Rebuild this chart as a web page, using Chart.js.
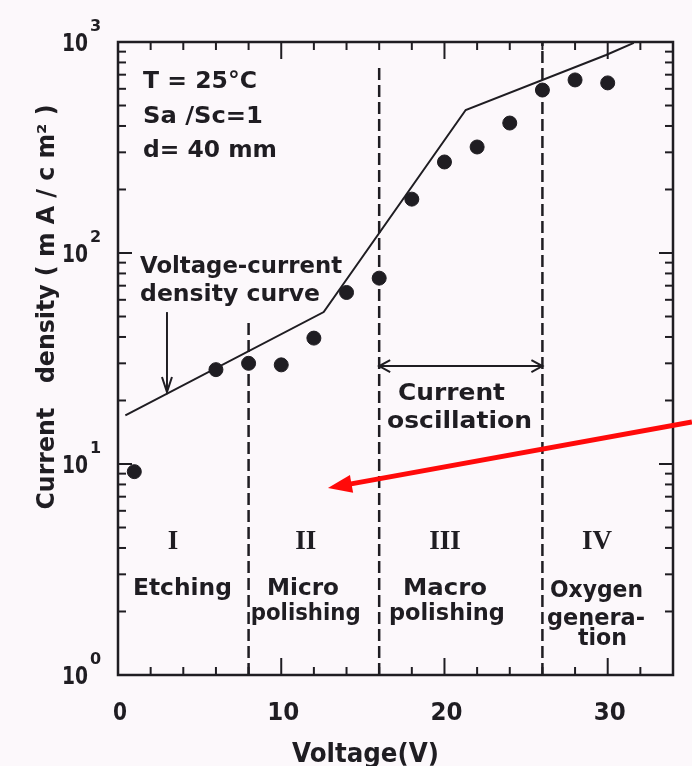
<!DOCTYPE html>
<html>
<head>
<meta charset="utf-8">
<script src="https://cdn.jsdelivr.net/npm/chart.js@4/dist/chart.umd.min.js"></script>
<style>
  html, body { margin: 0; padding: 0; background: #fcf8fb; }
  #wrap { width: 692px; height: 766px; }
</style>
</head>
<body>
<div id="wrap"><canvas id="myChart" width="692" height="766"></canvas></div>
<script>
// measured points
const voltage = [1, 6, 8, 10, 12, 14, 16, 18, 20, 22, 24, 26, 28, 30]
const currentDensity = [9.2, 28, 30, 29.5, 39.5, 65, 76, 180, 270, 318, 413, 592, 661, 640]

// voltage-current density curve
const curveVoltage = [0.45, 12.6, 21.3, 29.9, 31.6]
const curveDensity = [17, 52.5, 476, 868, 990]

// region boundaries (dashed lines)
const boundaryVoltage = [8, 16, 26]
const boundaryTop = [49, 760, 1000]

const xTickLabels = [0, 10, 20, 30]
const yDecades = [0, 1, 2, 3]

const regionNumerals = ['I', 'II', 'III', 'IV']
const regionNumeralX = [3.37, 11.5, 20.03, 29.34]

const INK = '#1f1d22'
const FONT = "'DejaVu Sans', sans-serif"
const SERIF = "'Liberation Serif', 'DejaVu Serif', serif"

// text helper: optional target width squeezes the text like the condensed original
function text(ctx, str, x, y, size, align, width, family) {
    ctx.save()
    ctx.font = `bold ${size}px ${family || FONT}`
    ctx.textBaseline = 'alphabetic'
    ctx.textAlign = align
    const w = ctx.measureText(str).width
    ctx.translate(x, y)
    if (width) ctx.scale(width / w, 1)
    ctx.fillText(str, 0, 0)
    ctx.restore()
}

function seg(ctx, x1, y1, x2, y2) {
    ctx.beginPath()
    ctx.moveTo(x1, y1)
    ctx.lineTo(x2, y2)
    ctx.stroke()
}

function chevron(ctx, tx, ty, fromX, fromY, len, half) {
    const a = Math.atan2(ty - fromY, tx - fromX)
    ctx.beginPath()
    ctx.moveTo(tx - len * Math.cos(a) + half * Math.sin(a), ty - len * Math.sin(a) - half * Math.cos(a))
    ctx.lineTo(tx, ty)
    ctx.lineTo(tx - len * Math.cos(a) - half * Math.sin(a), ty - len * Math.sin(a) + half * Math.cos(a))
    ctx.stroke()
}

const paperPlugin = {
    id: 'paper',
    beforeDraw(chart) {
        const ctx = chart.ctx
        ctx.save()
        ctx.fillStyle = '#fcf8fb'
        ctx.fillRect(0, 0, chart.width, chart.height)
        ctx.restore()
    },
    afterDraw(chart) {
        const ctx = chart.ctx
        const xs = chart.scales.x
        const ys = chart.scales.y
        const { left, right, top, bottom } = chart.chartArea
        const X = v => xs.getPixelForValue(v)
        const Y = d => ys.getPixelForValue(Math.pow(10, d))

        ctx.save()
        ctx.strokeStyle = INK
        ctx.fillStyle = INK

        // frame
        ctx.lineWidth = 2.5
        ctx.strokeRect(left, top, right - left, bottom - top)

        // ticks, all pointing inward
        ctx.lineWidth = 2
        for (let v = 2; v < 34; v += 2) {
            const len = v % 10 === 0 ? 17 : 8
            seg(ctx, X(v), bottom, X(v), bottom - len)
            seg(ctx, X(v), top, X(v), top + len)
        }
        for (let d = 0; d < 3; d++) {
            for (let m = 1; m <= 9; m++) {
                if (d === 0 && m === 1) continue
                const py = ys.getPixelForValue(m * Math.pow(10, d))
                const len = m === 1 ? 14 : 8
                seg(ctx, left, py, left + len, py)
                seg(ctx, right, py, right - len, py)
            }
        }

        // tick labels
        xTickLabels.forEach(v => text(ctx, String(v), X(v) + 2, bottom + 45, 25, 'center', v === 0 ? 14 : 32))
        yDecades.forEach(d => {
            const py = Y(d)
            text(ctx, '10', left - 30, py + 9, 25, 'right', 26)
            text(ctx, String(d), left - 28, py - 11, 16, 'left')
        })

        // axis titles
        text(ctx, 'Voltage(V)', (left + right) / 2 - 30, bottom + 87, 27, 'center', 147)
        ctx.save()
        ctx.translate(54, 307)
        ctx.rotate(-Math.PI / 2)
        text(ctx, 'Current   density ( m A / c m\u00b2 )', 0, 0, 24, 'center', 405)
        ctx.restore()

        // conditions
        text(ctx, 'T = 25\u00b0C', X(1.53), Y(2.782), 23, 'left', 114)
        text(ctx, 'Sa /Sc=1', X(1.53), Y(2.616), 23, 'left', 120)
        text(ctx, 'd= 40 mm', X(1.53), Y(2.455), 23, 'left', 134)

        // curve label with arrow
        text(ctx, 'Voltage-current', X(1.35), Y(1.905), 23, 'left', 202)
        text(ctx, 'density curve', X(1.35), Y(1.773), 23, 'left', 180)
        ctx.lineWidth = 2
        seg(ctx, X(3.0), Y(1.72), X(3.0), Y(1.341))
        chevron(ctx, X(3.0), Y(1.341), X(3.0), Y(1.72), 15, 5)

        // current oscillation double arrow
        const ay = Y(1.464)
        seg(ctx, X(16), ay, X(26), ay)
        chevron(ctx, X(16), ay, X(26), ay, 11, 6)
        chevron(ctx, X(26), ay, X(16), ay, 11, 6)
        text(ctx, 'Current', X(20.43), Y(1.303), 23, 'center', 107)
        text(ctx, 'oscillation', X(20.92), Y(1.171), 23, 'center', 145)

        // regions
        regionNumerals.forEach((r, i) => text(ctx, r, X(regionNumeralX[i]), Y(0.597), 27, 'center', null, SERIF))
        text(ctx, 'Etching', X(3.95), Y(0.379), 23, 'center', 99)
        text(ctx, 'Micro', X(11.33), Y(0.379), 23, 'center', 72)
        text(ctx, 'polishing', X(11.5), Y(0.261), 23, 'center', 110)
        text(ctx, 'Macro', X(20.03), Y(0.379), 23, 'center', 84)
        text(ctx, 'polishing', X(20.15), Y(0.261), 23, 'center', 116)
        text(ctx, 'Oxygen', X(29.31), Y(0.370), 23, 'center', 93)
        text(ctx, 'genera-', X(29.28), Y(0.237), 23, 'center', 98)
        text(ctx, 'tion', X(29.68), Y(0.142), 23, 'center', 49)

        // red pointer arrow
        const sx = X(35.16), sy = Y(1.199)
        const tx = X(12.86), ty = Y(0.886)
        const a = Math.atan2(ty - sy, tx - sx)
        ctx.strokeStyle = '#ff0a0a'
        ctx.fillStyle = '#ff0a0a'
        ctx.lineWidth = 5
        seg(ctx, sx, sy, tx - 18 * Math.cos(a), ty - 18 * Math.sin(a))
        ctx.beginPath()
        ctx.moveTo(tx, ty)
        ctx.lineTo(tx - 24 * Math.cos(a) + 9 * Math.sin(a), ty - 24 * Math.sin(a) - 9 * Math.cos(a))
        ctx.lineTo(tx - 24 * Math.cos(a) - 9 * Math.sin(a), ty - 24 * Math.sin(a) + 9 * Math.cos(a))
        ctx.closePath()
        ctx.fill()

        ctx.restore()
    }
}

const boundaryDatasets = boundaryVoltage.map((v, i) => ({
    type: 'line',
    data: [{ x: v, y: 1 }, { x: v, y: boundaryTop[i] }],
    borderColor: INK,
    borderWidth: 2.5,
    borderDash: [12, 5],
    pointRadius: 0,
    order: 3
}))

const data = {
    datasets: [
        {
            label: 'measured',
            data: voltage.map((v, i) => ({ x: v, y: currentDensity[i] })),
            backgroundColor: INK,
            borderColor: INK,
            pointRadius: 7,
            pointHoverRadius: 7,
            order: 1
        },
        {
            type: 'line',
            label: 'Voltage-current density curve',
            data: curveVoltage.map((v, i) => ({ x: v, y: curveDensity[i] })),
            borderColor: INK,
            borderWidth: 2,
            pointRadius: 0,
            tension: 0,
            order: 2
        },
        ...boundaryDatasets
    ]
}

const config = {
    type: 'scatter',
    data: data,
    options: {
        responsive: false,
        animation: false,
        devicePixelRatio: 1,
        layout: { padding: { left: 118, top: 42, right: 19, bottom: 91 } },
        plugins: {
            legend: { display: false },
            tooltip: { enabled: false }
        },
        scales: {
            x: { type: 'linear', min: 0, max: 34, display: false },
            y: { type: 'logarithmic', min: 1, max: 1000, display: false }
        }
    },
    plugins: [paperPlugin]
}

const myChart = new Chart(document.getElementById('myChart'), config)
</script>
</body>
</html>
